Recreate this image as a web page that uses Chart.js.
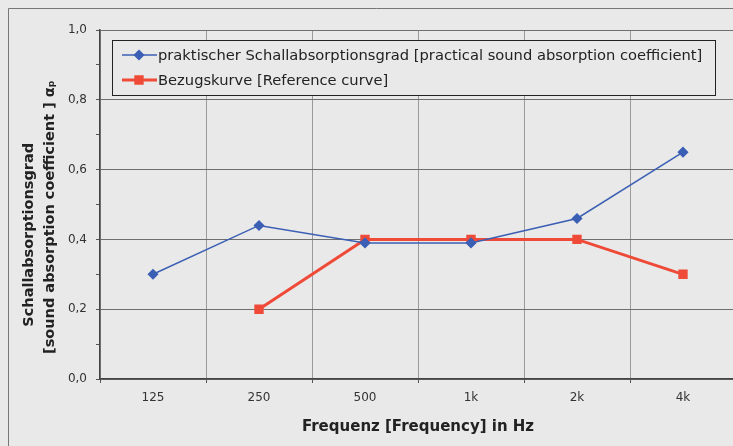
<!DOCTYPE html>
<html>
<head>
<meta charset="utf-8">
<script src="https://cdn.jsdelivr.net/npm/chart.js@4.4.0/dist/chart.umd.min.js"></script>
<style>
  html, body { margin: 0; padding: 0; overflow: hidden; background: #e9e9e9; }
  #wrap { width: 745px; height: 446px; position: relative; }
</style>
</head>
<body>
<div id="wrap"><canvas id="myChart"></canvas></div>
<script>
// frequency bands and values
const labels = ['125', '250', '500', '1k', '2k', '4k'];
const practical = [0.30, 0.44, 0.39, 0.39, 0.46, 0.65];
const reference = [null, 0.20, 0.40, 0.40, 0.40, 0.30];
const yTickLabels = ['0,0', '0,2', '0,4', '0,6', '0,8', '1,0'];

const legendNames = [
  'praktischer Schallabsorptionsgrad [practical sound absorption coefficient]',
  'Bezugskurve [Reference curve]'
];

const BG = '#e9e9e9';
const FONT = "'DejaVu Sans', 'Liberation Sans', Arial, sans-serif";

// background + thin outer frame of the scanned chart
const paper = {
  id: 'paper',
  beforeDraw(chart) {
    const ctx = chart.ctx;
    ctx.save();
    ctx.fillStyle = BG;
    ctx.fillRect(0, 0, chart.width, chart.height);
    ctx.strokeStyle = '#777';
    ctx.lineWidth = 1;
    ctx.beginPath();
    ctx.moveTo(8.5, chart.height);
    ctx.lineTo(8.5, 8.5);
    ctx.lineTo(chart.width, 8.5);
    ctx.stroke();
    ctx.restore();
  }
};

// legend box sitting inside the plot, like excel does it
const boxLegend = {
  id: 'boxLegend',
  afterDatasetsDraw(chart) {
    const ctx = chart.ctx;
    const area = chart.chartArea;
    const x = area.left + 12, y = area.top + 10;
    const w = 603, h = 55;
    ctx.save();
    ctx.fillStyle = BG;
    ctx.fillRect(x, y, w, h);
    ctx.strokeStyle = '#222';
    ctx.lineWidth = 1;
    ctx.strokeRect(x + 0.5, y + 0.5, w, h);

    ctx.font = '14.7px ' + FONT;
    ctx.textBaseline = 'middle';
    chart.data.datasets.forEach((ds, i) => {
      const ry = y + 15 + i * 25;
      ctx.strokeStyle = ds.borderColor;
      ctx.lineWidth = ds.borderWidth;
      ctx.beginPath();
      ctx.moveTo(x + 10, ry);
      ctx.lineTo(x + 45, ry);
      ctx.stroke();
      ctx.fillStyle = ds.pointBackgroundColor;
      ctx.strokeStyle = ds.pointBackgroundColor;
      Chart.helpers.drawPoint(ctx, {
        pointStyle: ds.pointStyle,
        radius: ds.pointRadius,
        borderWidth: 1
      }, x + 27, ry);
      ctx.fillStyle = '#222';
      ctx.fillText(legendNames[i], x + 46, ry + 1);
    });
    ctx.restore();
  }
};

const data = {
  labels: labels,
  datasets: [{
    label: legendNames[0],
    data: practical,
    borderColor: '#3b5fb4',
    backgroundColor: '#3b5fb4',
    pointBackgroundColor: '#3b5fb4',
    pointBorderColor: '#3b5fb4',
    borderWidth: 1.5,
    pointStyle: 'rectRot',
    pointRadius: 4.5,
    tension: 0,
    order: 1
  }, {
    label: legendNames[1],
    data: reference,
    borderColor: '#ef4a38',
    backgroundColor: '#ef4a38',
    pointBackgroundColor: '#ef4a38',
    pointBorderColor: '#ef4a38',
    borderWidth: 3,
    pointStyle: 'rect',
    pointRadius: 4.5,
    tension: 0,
    spanGaps: false,
    order: 2
  }]
};

const config = {
  type: 'line',
  data,
  options: {
    responsive: true,
    maintainAspectRatio: false,
    animation: false,
    layout: { padding: { left: 0, top: 30, right: 9, bottom: 0 } },
    plugins: {
      legend: { display: false },
      tooltip: { enabled: false }
    },
    scales: {
      x: {
        offset: true,
        grid: {
          offset: true,
          color: '#9a9a9a',
          tickColor: '#555',
          tickLength: 4
        },
        border: { color: '#444', width: 1.5 },
        ticks: {
          color: '#333',
          font: { family: FONT, size: 12 },
          padding: 8
        },
        title: {
          display: true,
          text: 'Frequenz [Frequency] in Hz',
          color: '#222',
          font: { family: FONT, size: 15, weight: 'bold' },
          padding: { top: 0, bottom: 10 }
        },
        afterFit: (scale) => { scale.height = 67; }
      },
      y: {
        min: 0,
        max: 1,
        ticks: {
          stepSize: 0.1,
          autoSkip: false,
          color: '#333',
          font: { family: FONT, size: 12 },
          padding: 9,
          callback: (v) => {
            const k = Math.round(v * 10);
            return k % 2 === 0 ? yTickLabels[k / 2] : '';
          }
        },
        grid: {
          color: (c) => (Math.round(c.tick.value * 10) % 2 === 0 ? '#6e6e6e' : 'transparent'),
          tickColor: '#555',
          tickLength: 4
        },
        border: { color: '#444', width: 1.5 },
        title: {
          display: true,
          // trailing spaces nudge the lines down a bit, the scan is not centered
          text: ['Schallabsorptionsgrad            ', '[sound absorption coefficient ] \u03B1\u209A     '],
          color: '#222',
          font: { family: FONT, size: 14.5, weight: 'bold', lineHeight: 1.5 },
          padding: { top: 18, bottom: 0 }
        },
        afterFit: (scale) => { scale.width = 100; }
      }
    }
  },
  plugins: [paper, boxLegend]
};

var chart = document.querySelector('#myChart');
var myChart = new Chart(chart, config);
</script>
</body>
</html>
